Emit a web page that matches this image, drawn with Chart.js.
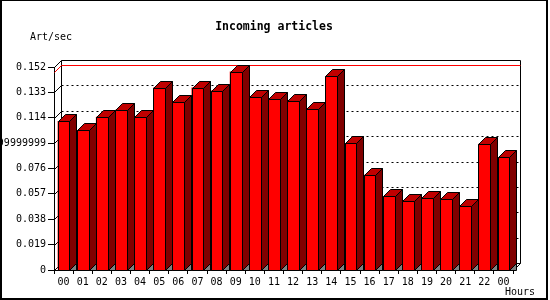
<!DOCTYPE html>
<html>
<head>
<meta charset="utf-8">
<script src="https://cdn.jsdelivr.net/npm/chart.js@4/dist/chart.umd.min.js"></script>
<style>
  html, body { margin: 0; padding: 0; background: #fff; }
  #chart { display: block; }
</style>
</head>
<body>
<canvas id="chart" width="550" height="300"></canvas>
<script>
// hours on the x axis
const hours = ["00","01","02","03","04","05","06","07","08","09","10","11",
               "12","13","14","15","16","17","18","19","20","21","22","00"];
// incoming articles per second
const artPerSec = [0.1116, 0.1049, 0.1148, 0.1199, 0.1148, 0.1366, 0.1261, 0.1366,
                   0.1344, 0.1486, 0.1299, 0.1284, 0.1269, 0.1208, 0.1449, 0.0951,
                   0.0713, 0.0553, 0.0516, 0.0538, 0.0531, 0.0478, 0.0946, 0.0846];
// y ticks and the labels the original printed for them
const yTicks = [0, 0.019, 0.038, 0.057, 0.076, 0.095, 0.114, 0.133, 0.152];
const yTickLabels = ["0","0.019","0.038","0.057","0.076","0.09499999999","0.114","0.133","0.152"];

const DEPTH = 7;
const monoFont = "'DejaVu Sans Mono', monospace";

// draws the back wall, dotted grid lines and the red max line
const backWall = {
    id: "backWall",
    beforeDatasetsDraw(chart) {
        const ctx = chart.ctx;
        const a = chart.chartArea;
        const yScale = chart.scales.y;
        const d = DEPTH;
        const L = Math.round(a.left) + 0.5, R = Math.round(a.right) + 0.5;
        const T = Math.round(a.top) + 0.5, B = Math.round(a.bottom) + 0.5;
        ctx.save();
        ctx.lineWidth = 1;
        ctx.strokeStyle = "#000";
        // dotted grid on the back wall
        ctx.setLineDash([2, 3]);
        yTicks.forEach(v => {
            if (v === 0 || v === yTicks[yTicks.length - 1]) return;
            const y = Math.round(yScale.getPixelForValue(v)) + 0.5;
            ctx.beginPath();
            ctx.moveTo(L + d, y - d);
            ctx.lineTo(R + d, y - d);
            ctx.stroke();
        });
        ctx.setLineDash([]);
        // little slants from the front axis to the back wall
        yTicks.forEach(v => {
            const y = Math.round(yScale.getPixelForValue(v)) + 0.5;
            ctx.beginPath();
            ctx.moveTo(L, y);
            ctx.lineTo(L + d, y - d);
            ctx.stroke();
        });
        // wall outline
        ctx.beginPath();
        ctx.moveTo(L + d, B - d);
        ctx.lineTo(L + d, T - d);
        ctx.lineTo(R + d, T - d);
        ctx.lineTo(R + d, B - d);
        ctx.lineTo(R, B);
        ctx.moveTo(L, B);
        ctx.lineTo(L + d, B - d);
        ctx.lineTo(R + d, B - d);
        ctx.stroke();
        // max line in red
        const ym = Math.round(yScale.getPixelForValue(Math.max(...artPerSec))) + 0.5;
        ctx.strokeStyle = "#ff0000";
        ctx.beginPath();
        ctx.moveTo(L, ym);
        ctx.lineTo(L + d, ym - d);
        ctx.lineTo(R + d, ym - d);
        ctx.stroke();
        ctx.restore();
    }
};

// adds top and side faces to each bar
const bars3d = {
    id: "bars3d",
    afterDatasetsDraw(chart) {
        const ctx = chart.ctx;
        const d = DEPTH;
        const meta = chart.getDatasetMeta(0);
        ctx.save();
        ctx.lineWidth = 1;
        ctx.strokeStyle = "#000";
        meta.data.forEach(bar => {
            const p = bar.getProps(["x", "y", "base", "width"], true);
            const x1 = Math.round(p.x - p.width / 2) + 0.5;
            const x2 = Math.round(p.x + p.width / 2) + 0.5;
            const y = Math.round(p.y) + 0.5;
            const b = Math.round(p.base) + 0.5;
            const poly = (pts, fill) => {
                ctx.beginPath();
                ctx.moveTo(pts[0][0], pts[0][1]);
                pts.slice(1).forEach(q => ctx.lineTo(q[0], q[1]));
                ctx.closePath();
                ctx.fillStyle = fill;
                ctx.fill();
                ctx.stroke();
            };
            poly([[x2, b], [x2 + d, b - d], [x2 + d, b]], "#808080");
            poly([[x1, y], [x1 + d, y - d], [x2 + d, y - d], [x2, y]], "#c00000");
            poly([[x2, y], [x2 + d, y - d], [x2 + d, b - d], [x2, b]], "#800000");
            poly([[x1, y], [x2, y], [x2, b], [x1, b]], "#ff0000");
        });
        ctx.restore();
    }
};

// texts and the outer frame
const decorations = {
    id: "decorations",
    afterDraw(chart) {
        const ctx = chart.ctx;
        ctx.save();
        ctx.fillStyle = "#000";
        ctx.textBaseline = "middle";
        ctx.font = "bold 11.5px " + monoFont;
        ctx.textAlign = "center";
        ctx.fillText("Incoming articles", 274, 27);
        ctx.font = "10px " + monoFont;
        ctx.textAlign = "left";
        ctx.fillText("Art/sec", 30, 37);
        ctx.fillText("Hours", 505, 292);
        ctx.fillRect(0, 0, 548, 1);
        ctx.fillRect(0, 0, 2, 300);
        ctx.fillRect(546, 0, 2, 300);
        ctx.fillRect(0, 298, 548, 2);
        ctx.restore();
    }
};

new Chart(document.getElementById("chart"), {
    type: "bar",
    data: {
        labels: hours,
        datasets: [{
            label: "Art/sec",
            data: artPerSec,
            backgroundColor: "#ff0000",
            borderColor: "#000",
            borderWidth: 0,
            barPercentage: 0.62,
            categoryPercentage: 1.0
        }]
    },
    options: {
        responsive: false,
        animation: false,
        layout: { padding: { top: 67, right: 37, left: 0, bottom: 0 } },
        plugins: {
            legend: { display: false },
            title: { display: false },
            tooltip: { enabled: false }
        },
        scales: {
            x: {
                grid: { offset: true, drawOnChartArea: false, color: "#000", tickLength: 4 },
                border: { display: true, color: "#000" },
                ticks: {
                    color: "#000",
                    font: { family: monoFont, size: 10 },
                    maxRotation: 0,
                    autoSkip: false,
                    padding: 2
                },
                afterFit(scale) { scale.height = 30; }
            },
            y: {
                min: 0,
                max: 0.152,
                grid: { drawOnChartArea: false, color: "#000", tickLength: 6 },
                border: { display: true, color: "#000" },
                ticks: {
                    color: "#000",
                    font: { family: monoFont, size: 10 },
                    padding: 2,
                    callback: (value, index) => yTickLabels[index]
                },
                afterBuildTicks(scale) { scale.ticks = yTicks.map(v => ({ value: v })); },
                afterFit(scale) { scale.width = 54; }
            }
        }
    },
    plugins: [backWall, bars3d, decorations]
});
</script>
</body>
</html>
